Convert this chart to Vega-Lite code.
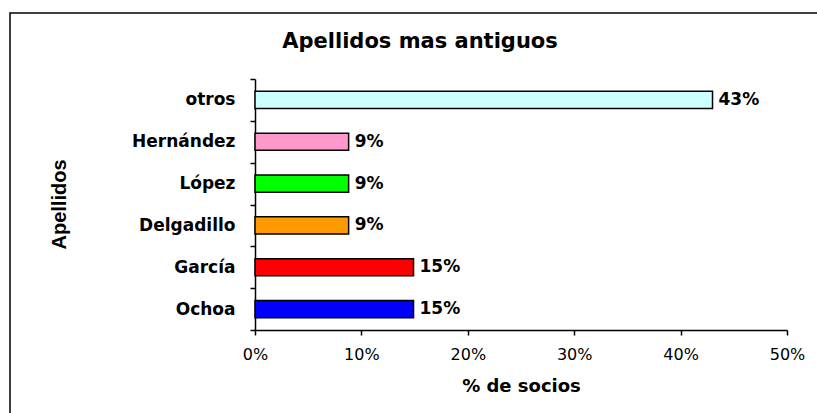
{
  "$schema": "https://vega.github.io/schema/vega-lite/v6.json",
  "width": 820,
  "height": 420,
  "autosize": "none",
  "padding": {"left": 10, "top": 13, "right": 0, "bottom": 0},
  "background": "white",
  "config": {
    "view": {"stroke": "black", "strokeWidth": 1.5},
    "font": "DejaVu Sans"
  },
  "title": {
    "text": "Apellidos mas antiguos",
    "font": "DejaVu Sans",
    "fontSize": 21,
    "fontWeight": "bold",
    "color": "black",
    "anchor": "middle",
    "offset": -48
  },
  "data": {
    "values": [
      {"apellido": "otros", "pct": 0.43},
      {"apellido": "Hernández", "pct": 0.088},
      {"apellido": "López", "pct": 0.088},
      {"apellido": "Delgadillo", "pct": 0.088},
      {"apellido": "García", "pct": 0.149},
      {"apellido": "Ochoa", "pct": 0.149}
    ]
  },
  "encoding": {
    "y": {
      "field": "apellido",
      "type": "nominal",
      "sort": ["otros", "Hernández", "López", "Delgadillo", "García", "Ochoa"],
      "scale": {"range": [66, 317], "paddingInner": 0, "paddingOuter": 0},
      "axis": {
        "title": "Apellidos",
        "offset": -245,
        "tickBand": "extent",
        "domainColor": "black",
        "domainWidth": 1.5,
        "tickColor": "black",
        "tickWidth": 1.5,
        "tickSize": 5,
        "labelFont": "DejaVu Sans",
        "labelFontWeight": "bold",
        "labelFontSize": 17,
        "labelColor": "black",
        "labelPadding": 15,
        "titleFont": "Liberation Sans",
        "titleFontWeight": "bold",
        "titleFontSize": 20,
        "titleColor": "black",
        "titleX": -196,
        "titleY": 191,
        "titleAngle": -90,
        "titleAlign": "center",
        "titleBaseline": "middle"
      }
    },
    "x": {
      "field": "pct",
      "type": "quantitative",
      "scale": {"domain": [0, 0.5], "range": [245, 777], "nice": false},
      "axis": {
        "title": "% de socios",
        "offset": -103,
        "values": [0, 0.1, 0.2, 0.3, 0.4, 0.5],
        "format": ".0%",
        "grid": false,
        "labelFlush": false,
        "domainColor": "black",
        "domainWidth": 1.5,
        "tickColor": "black",
        "tickWidth": 1.5,
        "tickSize": 5,
        "labelFont": "DejaVu Sans",
        "labelFontSize": 16,
        "labelColor": "black",
        "labelPadding": 11,
        "titleFont": "DejaVu Sans",
        "titleFontWeight": "bold",
        "titleFontSize": 18,
        "titleColor": "black",
        "titlePadding": 15
      }
    }
  },
  "layer": [
    {
      "mark": {"type": "bar", "height": {"band": 0.41}, "stroke": "black", "strokeWidth": 1.5},
      "encoding": {
        "color": {
          "field": "apellido",
          "type": "nominal",
          "scale": {
            "domain": ["otros", "Hernández", "López", "Delgadillo", "García", "Ochoa"],
            "range": ["#CCFFFF", "#FF99CC", "#00FF00", "#FF9900", "#FF0000", "#0000FF"]
          },
          "legend": null
        }
      }
    },
    {
      "mark": {"type": "text", "align": "left", "baseline": "middle", "dx": 6, "font": "DejaVu Sans", "fontWeight": "bold", "fontSize": 17, "color": "black"},
      "encoding": {
        "text": {"field": "pct", "type": "quantitative", "format": ".0%"}
      }
    }
  ]
}
